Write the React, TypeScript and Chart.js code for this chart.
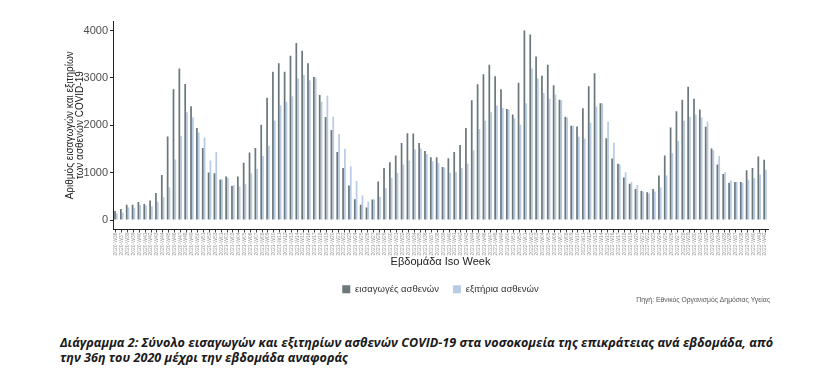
import { useEffect, useRef } from "react";
import { Chart, registerables } from "chart.js";

Chart.register(...registerables);

// Week ranges (year, first ISO week, last ISO week)
const weekRanges: [number, number, number][] = [
  [2020, 36, 53],
  [2021, 1, 52],
  [2022, 1, 42],
];

const weekLabels: string[] = [];
weekRanges.forEach(([y, a, b]) => {
  for (let w = a; w <= b; w++) weekLabels.push(`${y}-W${String(w).padStart(2, "0")}`);
});

const admissions = [
  190, 230, 320, 320, 380, 340, 410, 570, 950, 1760,
  2760, 3200, 2870, 2400, 1940, 1520, 1005, 985, 855, 920,
  720, 920, 1210, 1425, 1520, 2010, 2580, 3130, 3310, 3130,
  3465, 3735, 3570, 3310, 3020, 2640, 2175, 1900, 1435, 1100,
  730, 440, 320, 265, 435, 815, 1100, 1220, 1360, 1625,
  1830, 1825, 1625, 1455, 1325, 1325, 1120, 1305, 1435, 1585,
  1940, 2525, 2865, 3075, 3275, 3035, 2760, 2345, 2225, 2895,
  4000, 3915, 3450, 3045, 3275, 2845, 2540, 2180, 1990, 1975,
  2360, 2825, 3095, 2465, 1725, 1300, 1185, 900, 765, 655,
  615, 585, 655, 940, 1360, 1955, 2295, 2540, 2810, 2560,
  2330, 1970, 1510, 1170, 970, 785, 800, 800, 1050, 1100,
  1340, 1270,
];

const discharges = [
  140, 160, 265, 255, 315, 305, 290, 385, 480, 690,
  1275, 1775, 2275, 2165, 1845, 1740, 1255, 1435, 855, 885,
  740, 705, 765, 985, 1075, 1350, 1570, 2095, 2415, 2490,
  2610, 2985, 3060, 2950, 3010, 2490, 2625, 2180, 1815, 1505,
  1135, 825, 515, 385, 435, 490, 670, 885, 990, 1170,
  1255, 1490, 1510, 1395, 1240, 1205, 1110, 990, 1010, 1100,
  1185, 1470, 1920, 2095, 2275, 2415, 2365, 2325, 2145, 2010,
  2465, 3200, 2985, 2680, 2560, 2650, 2530, 2165, 1990, 1755,
  1720, 2060, 2395, 2465, 2075, 1635, 1170, 1010, 800, 740,
  600, 565, 600, 685, 940, 1410, 1670, 2095, 2180, 2225,
  2165, 2075, 1470, 1350, 1010, 835, 800, 780, 850, 885,
  955, 1060,
];

const yTickValues = [0, 1000, 2000, 3000, 4000];

const seriesNames = ["εισαγωγές ασθενών", "εξιτήρια ασθενών"];
const yTitle = ["Αριθμός εισαγωγών και εξιτηρίων", "των ασθενών COVID-19"];
const xTitle = "Εβδομάδα Iso Week";
const sourceText = "Πηγή: Εθνικός Οργανισμός Δημόσιας Υγείας";
const captionLines = [
  "Διάγραμμα 2: Σύνολο εισαγωγών και εξιτηρίων ασθενών COVID-19 στα νοσοκομεία της επικράτειας ανά εβδομάδα, από",
  "την 36η του 2020 μέχρι την εβδομάδα αναφοράς",
];

const FONT = '"Liberation Sans", Arial, sans-serif';

export default function App() {
  const ref = useRef<HTMLCanvasElement | null>(null);

  useEffect(() => {
    if (!ref.current) return;
    const sourcePlugin = {
      id: "sourceNote",
      afterDraw(chart: any) {
        const ctx = chart.ctx;
        ctx.save();
        ctx.font = `6.8px ${FONT}`;
        ctx.fillStyle = "#555";
        ctx.textAlign = "right";
        ctx.textBaseline = "middle";
        ctx.fillText(sourceText, chart.chartArea.right + 2, 292);
        ctx.restore();
      },
    };
    const chart = new Chart(ref.current, {
      type: "bar",
      data: {
        labels: weekLabels,
        datasets: [
          {
            label: seriesNames[0],
            data: admissions,
            backgroundColor: "#6a787c",
            borderWidth: 0,
            categoryPercentage: 0.62,
            barPercentage: 0.95,
          },
          {
            label: seriesNames[1],
            data: discharges,
            backgroundColor: "#b8cbe4",
            borderWidth: 0,
            categoryPercentage: 0.62,
            barPercentage: 0.95,
          },
        ],
      },
      plugins: [sourcePlugin],
      options: {
        animation: false,
        responsive: false,
        devicePixelRatio: 1,
        layout: { padding: { left: 50, top: 13, right: 64, bottom: 4 } },
        plugins: {
          tooltip: { enabled: false },
          legend: {
            position: "bottom",
            fullSize: false,
            labels: {
              boxWidth: 8,
              boxHeight: 8,
              padding: 14,
              color: "#333",
              font: { family: FONT, size: 9.5 },
            },
          },
        },
        scales: {
          x: {
            offset: true,
            grid: {
              offset: false,
              drawOnChartArea: false,
              drawTicks: true,
              tickLength: 3,
              color: "#444",
            },
            border: { display: true, color: "#222", width: 1 },
            ticks: {
              autoSkip: false,
              maxRotation: 90,
              minRotation: 90,
              padding: 0,
              color: "#999",
              font: { family: FONT, size: 5 },
            },
            title: {
              display: true,
              text: xTitle,
              color: "#222",
              font: { family: FONT, size: 11 },
              padding: { top: 0, bottom: 2 },
            },
            afterFit: (s: any) => {
              s.height = 41;
            },
          },
          y: {
            min: -200,
            max: 4200,
            grid: {
              drawOnChartArea: false,
              drawTicks: true,
              tickLength: 3,
              color: "#222",
            },
            border: { display: true, color: "#222", width: 1 },
            afterBuildTicks: (s: any) => {
              s.ticks = yTickValues.map((v) => ({ value: v }));
            },
            ticks: {
              padding: 2,
              color: "#4d4d4d",
              font: { family: FONT, size: 11 },
              callback: (v: any) => String(v),
            },
            title: {
              display: true,
              text: yTitle,
              color: "#222",
              font: { family: FONT, size: 10, lineHeight: 1.0 },
              padding: { top: 7, bottom: 0 },
            },
            afterFit: (s: any) => {
              s.width = 55;
            },
          },
        },
      },
    } as any);
    return () => chart.destroy();
  }, []);

  return (
    <div style={{ position: "relative", width: 824, height: 366 }}>
      <canvas ref={ref} width={824} height={300} style={{ position: "absolute", left: 0, top: 0, width: 824, height: 300 }} />
      <div
        style={{
          position: "absolute",
          left: 52,
          top: 327,
          fontFamily: '"Open Sans", sans-serif',
          fontWeight: 700,
          fontStyle: "italic",
          fontSize: 12.6,
          lineHeight: "15px",
          color: "#1a1a1a",
          whiteSpace: "nowrap",
        }}
      >
        {captionLines.map((l, i) => (
          <div key={i}>{l}</div>
        ))}
      </div>
    </div>
  );
}
